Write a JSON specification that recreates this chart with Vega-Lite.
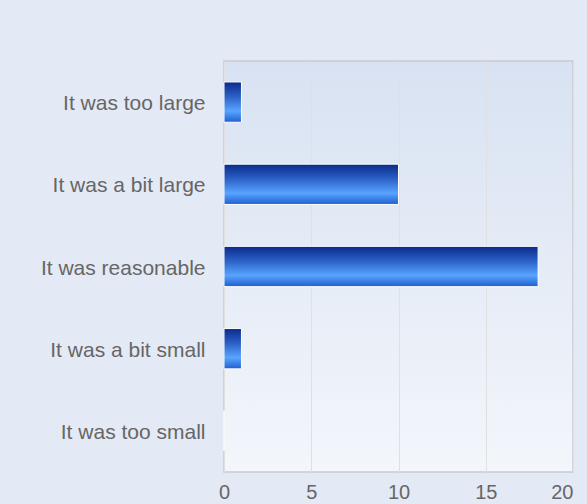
{
  "$schema": "https://vega.github.io/schema/vega-lite/v6.json",
  "autosize": {"type": "none"},
  "padding": {"left": 224, "top": 61, "right": 14, "bottom": 32},
  "width": 349,
  "height": 411,
  "background": "#e4eaf5",
  "data": {
    "values": [
      {"answer": "It was too large", "count": 1},
      {"answer": "It was a bit large", "count": 10},
      {"answer": "It was reasonable", "count": 18},
      {"answer": "It was a bit small", "count": 1},
      {"answer": "It was too small", "count": 0}
    ]
  },
  "mark": {
    "type": "bar",
    "stroke": "white",
    "strokeWidth": 1,
    "fill": {
      "gradient": "linear",
      "x1": 0, "y1": 0, "x2": 0, "y2": 1,
      "stops": [
        {"offset": 0, "color": "#0a2a8a"},
        {"offset": 0.35, "color": "#2a5ec4"},
        {"offset": 0.72, "color": "#58a4ff"},
        {"offset": 1, "color": "#1f5fcf"}
      ]
    }
  },
  "encoding": {
    "y": {
      "field": "answer",
      "type": "nominal",
      "sort": null,
      "title": null,
      "scale": {"paddingInner": 0.51, "paddingOuter": 0.255},
      "axis": {
        "domain": false,
        "ticks": false,
        "labelPadding": 19,
        "labelOffset": 2,
        "labelColor": "#666666",
        "labelFontSize": 21,
        "labelFont": "Liberation Sans",
        "labelLimit": 300
      }
    },
    "x": {
      "field": "count",
      "type": "quantitative",
      "title": null,
      "scale": {"domain": [0, 20], "nice": false},
      "axis": {
        "values": [0, 5, 10, 15, 20],
        "domain": false,
        "ticks": false,
        "labelPadding": 10,
        "labelColor": "#666666",
        "labelFontSize": 20,
        "labelFont": "Liberation Sans",
        "labelAlign": {"expr": "datum.value == 20 ? 'right' : 'center'"},
        "gridColor": "#e0e0e0",
        "gridWidth": 1
      }
    }
  },
  "config": {
    "view": {
      "stroke": "#c8cbd0",
      "strokeWidth": 1.5,
      "fill": {
        "gradient": "linear",
        "x1": 0, "y1": 0, "x2": 0, "y2": 1,
        "stops": [
          {"offset": 0, "color": "#d8e2f2"},
          {"offset": 1, "color": "#f3f6fb"}
        ]
      }
    }
  }
}
